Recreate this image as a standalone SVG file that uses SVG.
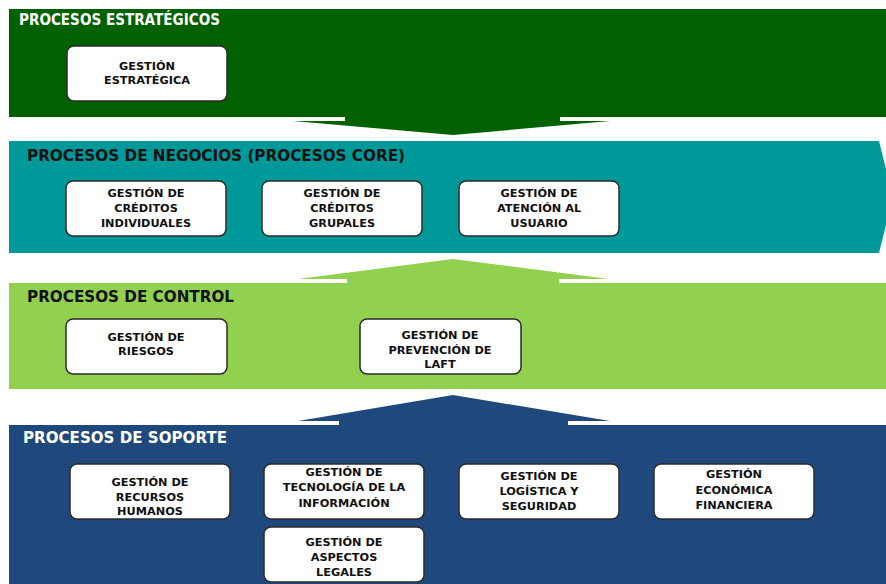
<svg xmlns="http://www.w3.org/2000/svg" width="886" height="584" viewBox="0 0 886 584">
<style>
.title{font-family:"DejaVu Sans","Liberation Sans",sans-serif;font-weight:bold;font-size:15px}
.box rect{fill:#ffffff;stroke:#2b2b2b;stroke-width:1.5}
.box text{font-family:"DejaVu Sans","Liberation Sans",sans-serif;font-weight:bold;font-size:11.3px;fill:#111;text-anchor:middle}
</style>
<rect width="886" height="584" fill="#ffffff"/>
<g id="bands">
  <g id="band-estrategicos">
    <rect x="9" y="9" width="877" height="108" fill="#006100"/>
    <text class="title" x="19" y="25" fill="#ffffff" textLength="201" lengthAdjust="spacingAndGlyphs">PROCESOS ESTRATÉGICOS</text>
  </g>
  <g id="band-negocios">
    <polygon points="9,141 879,141 893,197 879,253 9,253" fill="#009999"/>
    <text class="title" x="27" y="161" fill="#111111" textLength="378" lengthAdjust="spacingAndGlyphs">PROCESOS DE NEGOCIOS (PROCESOS CORE)</text>
  </g>
  <g id="band-control">
    <rect x="9" y="283" width="877" height="106" fill="#92d050"/>
    <text class="title" x="27" y="302" fill="#111111" textLength="207" lengthAdjust="spacingAndGlyphs">PROCESOS DE CONTROL</text>
  </g>
  <g id="band-soporte">
    <rect x="9" y="425" width="877" height="159" fill="#1f497d"/>
    <text class="title" x="23" y="443" fill="#ffffff" textLength="204" lengthAdjust="spacingAndGlyphs">PROCESOS DE SOPORTE</text>
  </g>
</g>
<g id="connectors">
  <polygon points="345,116 345,121 293,121 453,135 610,121 560,121 560,116" fill="#006100"/>
  <polygon points="347,284 347,279 298,279 453,259 609,279 559,279 559,284" fill="#92d050"/>
  <polygon points="339,426 339,421 298,421 453,395 610,421 568,421 568,426" fill="#1f497d"/>
</g>
<g id="gestion-estrategica" class="box">
  <rect x="67" y="46" width="160" height="55" rx="7"/>
  <text x="147" y="70">GESTIÓN</text>
  <text x="147" y="84">ESTRATÉGICA</text>
</g>
<g id="creditos-individuales" class="box">
  <rect x="66" y="181" width="160" height="55" rx="7"/>
  <text x="146" y="197">GESTIÓN DE</text>
  <text x="146" y="212">CRÉDITOS</text>
  <text x="146" y="227">INDIVIDUALES</text>
</g>
<g id="creditos-grupales" class="box">
  <rect x="262" y="181" width="160" height="55" rx="7"/>
  <text x="342" y="197">GESTIÓN DE</text>
  <text x="342" y="212">CRÉDITOS</text>
  <text x="342" y="227">GRUPALES</text>
</g>
<g id="atencion-usuario" class="box">
  <rect x="459" y="181" width="160" height="55" rx="7"/>
  <text x="539" y="197">GESTIÓN DE</text>
  <text x="539" y="212">ATENCIÓN AL</text>
  <text x="539" y="227">USUARIO</text>
</g>
<g id="riesgos" class="box">
  <rect x="66" y="319" width="161" height="55" rx="7"/>
  <text x="146" y="341">GESTIÓN DE</text>
  <text x="146" y="355">RIESGOS</text>
</g>
<g id="prevencion-laft" class="box">
  <rect x="360" y="319" width="161" height="55" rx="7"/>
  <text x="440" y="339">GESTIÓN DE</text>
  <text x="440" y="354">PREVENCIÓN DE</text>
  <text x="440" y="368">LAFT</text>
</g>
<g id="recursos-humanos" class="box">
  <rect x="70" y="464" width="160" height="55" rx="7"/>
  <text x="150" y="486">GESTIÓN DE</text>
  <text x="150" y="501">RECURSOS</text>
  <text x="150" y="515">HUMANOS</text>
</g>
<g id="tecnologia-informacion" class="box">
  <rect x="264" y="464" width="160" height="55" rx="7"/>
  <text x="344" y="476">GESTIÓN DE</text>
  <text x="344" y="491">TECNOLOGÍA DE LA</text>
  <text x="344" y="507">INFORMACIÓN</text>
</g>
<g id="aspectos-legales" class="box">
  <rect x="264" y="527" width="160" height="55" rx="7"/>
  <text x="344" y="546">GESTIÓN DE</text>
  <text x="344" y="561">ASPECTOS</text>
  <text x="344" y="576">LEGALES</text>
</g>
<g id="logistica-seguridad" class="box">
  <rect x="459" y="464" width="160" height="55" rx="7"/>
  <text x="539" y="480">GESTIÓN DE</text>
  <text x="539" y="495">LOGÍSTICA Y</text>
  <text x="539" y="510">SEGURIDAD</text>
</g>
<g id="economica-financiera" class="box">
  <rect x="654" y="464" width="160" height="55" rx="7"/>
  <text x="734" y="478">GESTIÓN</text>
  <text x="734" y="494">ECONÓMICA</text>
  <text x="734" y="509">FINANCIERA</text>
</g>
</svg>
